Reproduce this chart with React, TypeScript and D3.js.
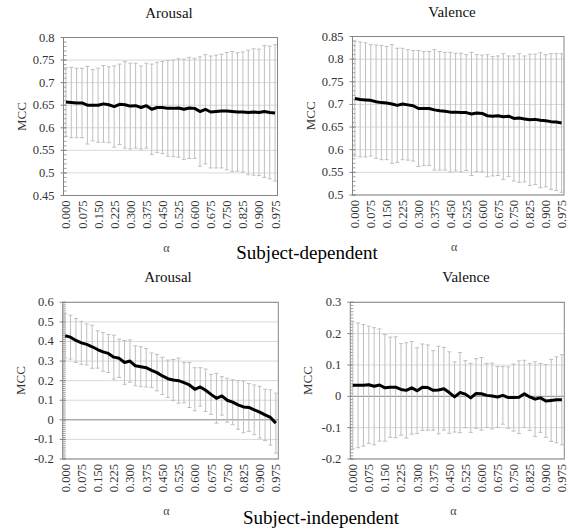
import * as d3 from "d3";

// alpha categories (x axis)
const alphas = [
  "0.000", "0.025", "0.050", "0.075", "0.100", "0.125", "0.150", "0.175", "0.200", "0.225",
  "0.250", "0.275", "0.300", "0.325", "0.350", "0.375", "0.400", "0.425", "0.450", "0.475",
  "0.500", "0.525", "0.550", "0.575", "0.600", "0.625", "0.650", "0.675", "0.700", "0.725",
  "0.750", "0.775", "0.800", "0.825", "0.850", "0.875", "0.900", "0.925", "0.950", "0.975",
];

// Subject-dependent, arousal
const arousalDepMean = [
  0.657, 0.656, 0.655, 0.655, 0.650, 0.650, 0.650, 0.653, 0.651, 0.647,
  0.652, 0.651, 0.648, 0.649, 0.645, 0.649, 0.641, 0.645, 0.645, 0.643,
  0.643, 0.644, 0.641, 0.644, 0.643, 0.636, 0.641, 0.635, 0.636, 0.637,
  0.637, 0.636, 0.635, 0.635, 0.634, 0.635, 0.634, 0.636, 0.634, 0.633,
];
const arousalDepSd = [
  0.076, 0.078, 0.077, 0.077, 0.086, 0.079, 0.082, 0.085, 0.084, 0.090,
  0.089, 0.096, 0.095, 0.094, 0.092, 0.094, 0.100, 0.100, 0.102, 0.106,
  0.107, 0.109, 0.111, 0.112, 0.111, 0.121, 0.121, 0.124, 0.125, 0.126,
  0.130, 0.133, 0.131, 0.133, 0.138, 0.140, 0.140, 0.146, 0.147, 0.151,
];

// Subject-dependent, valence
const valenceDepMean = [
  0.713, 0.711, 0.710, 0.709, 0.706, 0.704, 0.703, 0.701, 0.698, 0.701,
  0.699, 0.697, 0.691, 0.691, 0.691, 0.688, 0.686, 0.685, 0.683, 0.683,
  0.682, 0.682, 0.679, 0.681, 0.680, 0.675, 0.674, 0.675, 0.673, 0.674,
  0.669, 0.670, 0.668, 0.666, 0.667, 0.665, 0.664, 0.662, 0.661, 0.659,
];
const valenceDepSd = [
  0.127, 0.127, 0.126, 0.123, 0.125, 0.126, 0.125, 0.131, 0.126, 0.123,
  0.122, 0.122, 0.128, 0.126, 0.126, 0.133, 0.131, 0.130, 0.132, 0.130,
  0.131, 0.128, 0.136, 0.129, 0.129, 0.135, 0.132, 0.132, 0.139, 0.133,
  0.138, 0.142, 0.139, 0.145, 0.144, 0.149, 0.146, 0.150, 0.151, 0.153,
];

// Subject-independent, arousal
const arousalIndMean = [
  0.429, 0.422, 0.405, 0.393, 0.385, 0.373, 0.359, 0.347, 0.339, 0.320,
  0.314, 0.293, 0.300, 0.276, 0.271, 0.266, 0.253, 0.241, 0.224, 0.210,
  0.203, 0.200, 0.190, 0.178, 0.156, 0.168, 0.151, 0.130, 0.110, 0.122,
  0.100, 0.090, 0.076, 0.066, 0.063, 0.051, 0.039, 0.025, 0.012, -0.017,
];
const arousalIndSd = [
  0.113, 0.112, 0.112, 0.110, 0.105, 0.110, 0.095, 0.099, 0.097, 0.112,
  0.098, 0.112, 0.108, 0.102, 0.102, 0.098, 0.088, 0.093, 0.095, 0.095,
  0.105, 0.115, 0.103, 0.115, 0.110, 0.098, 0.108, 0.102, 0.127, 0.098,
  0.112, 0.115, 0.124, 0.132, 0.122, 0.127, 0.132, 0.131, 0.141, 0.153,
];

// Subject-independent, valence
const valenceIndMean = [
  0.035, 0.035, 0.035, 0.037, 0.032, 0.036, 0.027, 0.029, 0.029, 0.022,
  0.019, 0.027, 0.018, 0.029, 0.028, 0.019, 0.020, 0.024, 0.012, -0.002,
  0.012, 0.007, -0.005, 0.009, 0.008, 0.003, 0.001, -0.002, 0.003, -0.004,
  -0.004, -0.003, 0.008, -0.002, -0.009, -0.005, -0.015, -0.013, -0.011, -0.011,
];
const valenceIndSd = [
  0.203, 0.199, 0.194, 0.187, 0.187, 0.179, 0.170, 0.160, 0.161, 0.146,
  0.152, 0.148, 0.137, 0.138, 0.136, 0.127, 0.140, 0.132, 0.130, 0.112,
  0.128, 0.107, 0.110, 0.111, 0.116, 0.102, 0.105, 0.097, 0.092, 0.098,
  0.107, 0.116, 0.107, 0.107, 0.119, 0.110, 0.116, 0.131, 0.137, 0.144,
];

const arousalDepTicks = [0.45, 0.5, 0.55, 0.6, 0.65, 0.7, 0.75, 0.8];
const valenceDepTicks = [0.5, 0.55, 0.6, 0.65, 0.7, 0.75, 0.8, 0.85];
const arousalIndTicks = [-0.2, -0.1, 0, 0.1, 0.2, 0.3, 0.4, 0.5, 0.6];
const valenceIndTicks = [-0.2, -0.1, 0, 0.1, 0.2, 0.3];

const groupTitles = ["Subject-dependent", "Subject-independent"];

const serif = "'Liberation Serif', 'Times New Roman', serif";

interface PanelSpec {
  title: string;
  mean: number[];
  sd: number[];
  ticks: number[];
  left: number;
  right: number;
  top: number;
  bottom: number;
  titleX: number;
}

const panels: PanelSpec[] = [
  { title: "Arousal", mean: arousalDepMean, sd: arousalDepSd, ticks: arousalDepTicks, left: 63.5, right: 277.5, top: 37.5, bottom: 195.5, titleX: 169 },
  { title: "Valence", mean: valenceDepMean, sd: valenceDepSd, ticks: valenceDepTicks, left: 352.5, right: 564, top: 36.5, bottom: 195, titleX: 452 },
  { title: "Arousal", mean: arousalIndMean, sd: arousalIndSd, ticks: arousalIndTicks, left: 62.7, right: 278.3, top: 302.3, bottom: 459, titleX: 168 },
  { title: "Valence", mean: valenceIndMean, sd: valenceIndSd, ticks: valenceIndTicks, left: 350.3, right: 564.3, top: 302.3, bottom: 459, titleX: 466 },
];

function Panel({ spec }: { spec: PanelSpec }) {
  const x = d3.scalePoint<string>().domain(alphas).range([spec.left, spec.right]).padding(0.45);
  const [lo, hi] = d3.extent(spec.ticks) as [number, number];
  const y = d3.scaleLinear().domain([lo, hi]).range([spec.bottom, spec.top]);
  const minor = d3.range(Math.round(lo * 100), Math.round(hi * 100) + 1).map((v) => v / 100);
  const line = d3.line<number>()
    .x((_, i) => x(alphas[i]) ?? 0)
    .y((d) => y(d));
  const cx = (spec.left + spec.right) / 2;
  const cap = 2;

  return (
    <g style={{ fontFamily: serif }}>
      <text x={spec.titleX} y={spec.top - 20} textAnchor="middle" fontSize={15} fill="#111">{spec.title}</text>

      {spec.ticks.map((t) => (
        <line key={`g-${t}`} x1={spec.left} x2={spec.right} y1={y(t)} y2={y(t)} stroke={t === 0 ? "#868686" : "#d9d9d9"} strokeWidth={1} />
      ))}

      <rect x={spec.left} y={spec.top} width={spec.right - spec.left} height={spec.bottom - spec.top} fill="none" stroke="#868686" strokeWidth={1} />

      {minor.map((t) => (
        <line key={`m-${t}`} x1={spec.left} x2={spec.left + 3} y1={y(t)} y2={y(t)} stroke="#868686" strokeWidth={0.8} />
      ))}
      {spec.ticks.map((t) => (
        <g key={`t-${t}`}>
          <line x1={spec.left - 3} x2={spec.left + 3} y1={y(t)} y2={y(t)} stroke="#868686" strokeWidth={1} />
          <text x={spec.left - 9} y={y(t) + 4} textAnchor="end" fontSize={12.5} fill="#333">{String(t)}</text>
        </g>
      ))}

      {spec.mean.map((m, i) => {
        const px = x(alphas[i]) ?? 0;
        const y1 = y(m + spec.sd[i]);
        const y2 = y(m - spec.sd[i]);
        return (
          <g key={`e-${i}`} stroke="#bfbfbf" strokeWidth={1}>
            <line x1={px} x2={px} y1={y1} y2={y2} />
            <line x1={px - cap} x2={px + cap} y1={y1} y2={y1} />
            <line x1={px - cap} x2={px + cap} y1={y2} y2={y2} />
          </g>
        );
      })}

      <path d={line(spec.mean) ?? ""} fill="none" stroke="#000" strokeWidth={3} strokeLinejoin="round" />

      {alphas.filter((_, i) => i % 3 === 0).map((a) => (
        <text key={`x-${a}`} transform={`translate(${(x(a) ?? 0) + 4.5}, ${spec.bottom + 5}) rotate(-90)`} textAnchor="end" fontSize={12.5} fill="#333">{a}</text>
      ))}

      <text transform={`translate(${spec.left - 38}, ${(spec.top + spec.bottom) / 2}) rotate(-90)`} textAnchor="middle" fontSize={13} fill="#333">MCC</text>
      <text x={cx - 4} y={spec.bottom + 56} textAnchor="middle" fontSize={12} fill="#444">α</text>
    </g>
  );
}

export default function App() {
  return (
    <svg width={574} height={531} viewBox="0 0 574 531" style={{ position: "absolute", left: 0, top: 0, background: "#fff" }}>
      {panels.map((p, i) => (
        <Panel key={i} spec={p} />
      ))}
      <text x={307} y={259} textAnchor="middle" style={{ fontFamily: serif }} fontSize={19} fill="#000">{groupTitles[0]}</text>
      <text x={321} y={524} textAnchor="middle" style={{ fontFamily: serif }} fontSize={19} fill="#000">{groupTitles[1]}</text>
    </svg>
  );
}
